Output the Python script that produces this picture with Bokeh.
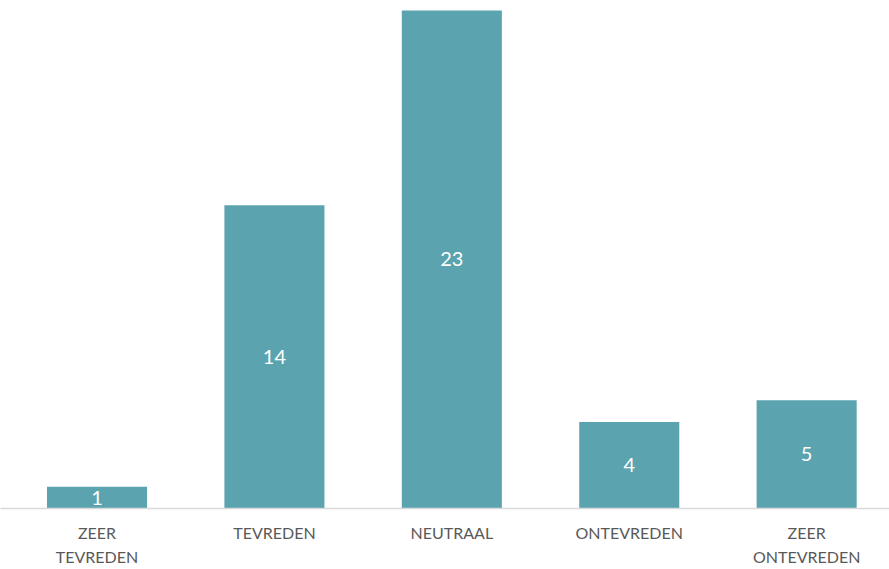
from bokeh.plotting import figure
from bokeh.models import Range1d, FixedTicker, ColumnDataSource
from bokeh.core.properties import value
from bokeh.embed import file_html
from bokeh.resources import INLINE

categories = ["ZEER\nTEVREDEN", "TEVREDEN", "NEUTRAAL", "ONTEVREDEN", "ZEER\nONTEVREDEN"]
values = [1, 14, 23, 4, 5]

xs = [i + 0.5 for i in range(len(categories))]
src = ColumnDataSource(dict(x=xs, top=values, mid=[v / 2 for v in values],
                            lbl=[str(v) for v in values]))

p = figure(frame_width=889, frame_height=508, output_backend="svg", toolbar_location=None,
           x_range=Range1d(-0.044, 4.967), y_range=Range1d(0, 23.46),
           min_border_left=0, min_border_right=0, min_border_top=0, min_border_bottom=0)
p.outline_line_color = None
p.grid.grid_line_color = None
p.yaxis.visible = False

p.vbar(x="x", top="top", width=0.564, source=src, fill_color="#5BA3AF", line_color=None)
p.text(x="x", y="mid", text="lbl", source=src, text_color="white",
       text_font=value("Lato"), text_font_size="20px",
       text_align="center", text_baseline="middle")

ax = p.xaxis[0]
ax.ticker = FixedTicker(ticks=xs)
ax.major_label_overrides = {x: c for x, c in zip(xs, categories)}
ax.axis_line_color = "#D9D9D9"
ax.axis_line_width = 1.5
ax.major_tick_line_color = None
ax.minor_tick_line_color = None
ax.major_tick_out = 0
ax.major_tick_in = 0
ax.major_label_standoff = 14
ax.major_label_text_font = "Lato"
ax.major_label_text_font_size = "16px"
ax.major_label_text_color = "#595959"
ax.major_label_text_line_height = 1.3

open("out.html", "w").write(file_html(p, INLINE))
